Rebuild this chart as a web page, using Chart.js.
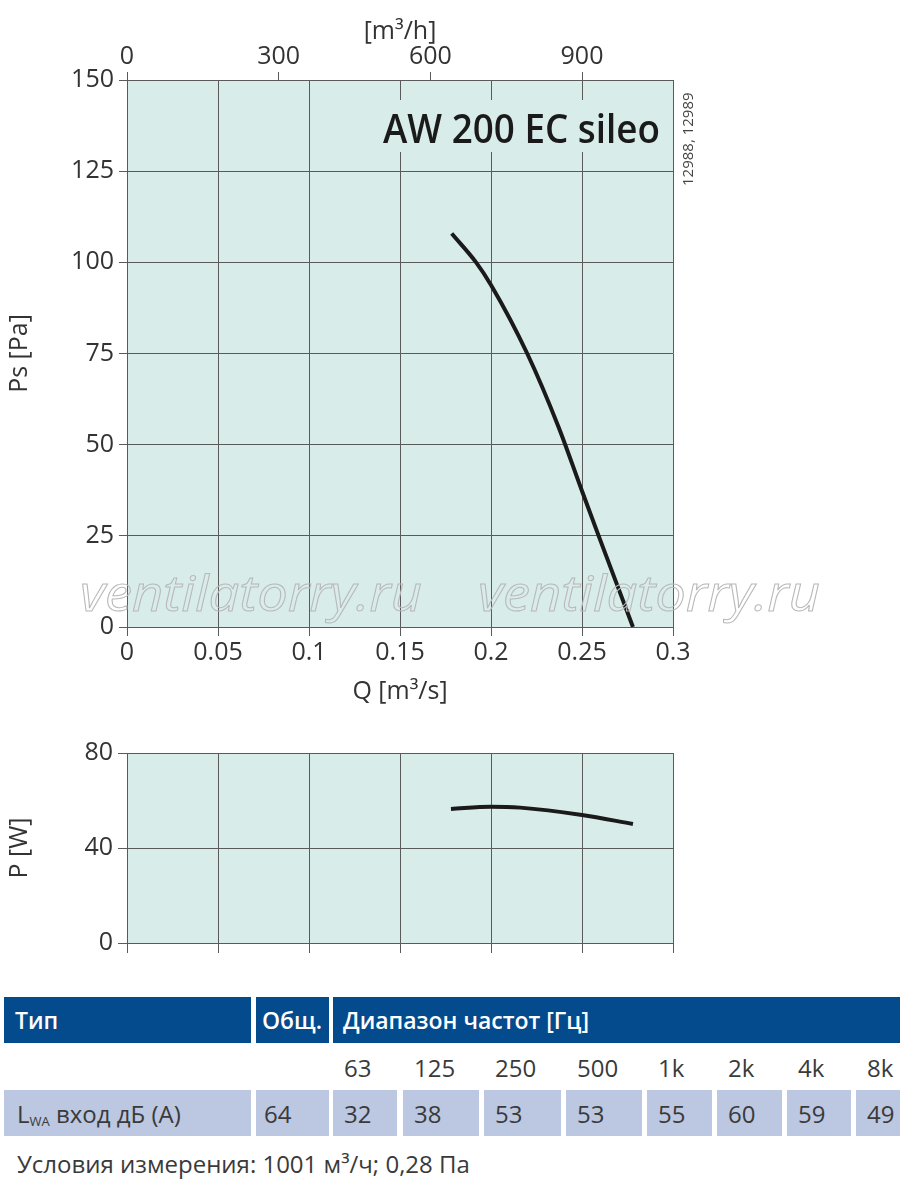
<!DOCTYPE html>
<html>
<head>
<meta charset="utf-8">
<script src="https://cdn.jsdelivr.net/npm/chart.js@4/dist/chart.umd.min.js"></script>
<style>
  body { margin: 0; background: #fff; width: 900px; height: 1186px; position: relative; overflow: hidden; font-family: "Open Sans", sans-serif; }
  canvas { position: absolute; left: 0; }
  #c1 { top: 0; }
  #c2 { top: 720px; }
  .cell { position: absolute; box-sizing: border-box; display: flex; align-items: center; white-space: nowrap; color: #3a3a3a; font-size: 24px; }
  .head { background: #034b8c; color: #fff; font-size: 23px; font-weight: 600; }
  .row { background: #bcc7e1; }
  sub { font-size: 13px; vertical-align: -3px; }
</style>
</head>
<body>
<canvas id="c1" width="900" height="715"></canvas>
<canvas id="c2" width="900" height="250"></canvas>
<div id="table"></div>
<script>
// curve points
const qPs = [0.1784, 0.1918, 0.2, 0.2199, 0.237, 0.25, 0.259, 0.278];
const ps = [107.9, 100, 93.8, 75, 55, 37.3, 25.2, 0];
const qPower = [0.178, 0.2, 0.216, 0.25, 0.278];
const power = [56.4, 57.4, 57.0, 53.9, 50.1];

// ticks
const qTicks = [0, 0.05, 0.1, 0.15, 0.2, 0.25, 0.3];
const m3hTicks = [0, 300, 600, 900];
const psTicks = [0, 25, 50, 75, 100, 125, 150];
const powerTicks = [0, 40, 80];

// noise table
const bands = ["63", "125", "250", "500", "1k", "2k", "4k", "8k"];
const levels = [32, 38, 53, 53, 55, 60, 59, 49];
const totalLevel = 64;

const plotBg = "#d8ecea";
const gridCol = "#5a5a5a";
const textCol = "#333";
const font = "'Open Sans', sans-serif";

function setTicks(arr) {
  return function (scale) {
    scale.ticks = arr.map(v => ({ value: v }));
  };
}

const bgPlugin = {
  id: "bg",
  beforeDraw(chart) {
    const a = chart.chartArea;
    const ctx = chart.ctx;
    ctx.save();
    ctx.fillStyle = plotBg;
    ctx.fillRect(a.left, a.top, a.right - a.left, a.bottom - a.top);
    ctx.restore();
  }
};

const labelsPlugin = {
  id: "labels",
  afterDraw(chart) {
    const ctx = chart.ctx;
    ctx.save();
    // model name with box hiding grid
    ctx.fillStyle = plotBg;
    ctx.fillRect(378, 100, 288, 52);
    ctx.font = "600 40px " + font;
    ctx.fillStyle = "#1a1a1a";
    ctx.textBaseline = "alphabetic";
    let w = ctx.measureText("AW 200 EC sileo").width;
    ctx.translate(383, 143);
    ctx.scale(277 / w, 1);
    ctx.fillText("AW 200 EC sileo", 0, 0);
    ctx.restore();

    // code numbers, rotated
    ctx.save();
    ctx.translate(689, 186);
    ctx.rotate(-Math.PI / 2);
    ctx.font = "15px " + font;
    ctx.fillStyle = "#444";
    ctx.textBaseline = "middle";
    ctx.fillText("12988, 12989", 0, 0);
    ctx.restore();

    // watermark
    ctx.save();
    ctx.font = "italic 50px " + font;
    ctx.strokeStyle = "#b8b8b8";
    ctx.lineWidth = 1;
    ctx.textBaseline = "middle";
    w = ctx.measureText("ventilatorry.ru").width;
    [80, 478].forEach(x0 => {
      ctx.save();
      ctx.translate(x0, 597);
      ctx.scale(342 / w, 1);
      ctx.strokeText("ventilatorry.ru", 0, 0);
      ctx.restore();
    });
    ctx.restore();
  }
};

const tickFont = { family: font, size: 25 };
const titleFont = { family: font, size: 25 };

new Chart(document.getElementById("c1"), {
  type: "scatter",
  data: {
    datasets: [{
      data: qPs.map((q, i) => ({ x: q, y: ps[i] })),
      showLine: true,
      borderColor: "#1a1a1a",
      borderWidth: 4,
      pointRadius: 0,
      cubicInterpolationMode: "monotone"
    }]
  },
  options: {
    responsive: false,
    animation: false,
    layout: { padding: { left: 0, right: 227, top: 0, bottom: 0 } },
    plugins: { legend: { display: false }, tooltip: { enabled: false } },
    scales: {
      x: {
        type: "linear", position: "bottom", min: 0, max: 0.3,
        afterBuildTicks: setTicks(qTicks),
        afterFit(s) { s.height = 88; },
        grid: { color: gridCol, tickLength: 9, tickColor: gridCol },
        border: { color: gridCol },
        ticks: { color: textCol, font: tickFont, padding: 2, maxRotation: 0, callback: v => String(v) },
        title: { display: true, text: "Q [m³/s]", color: textCol, font: titleFont, padding: { top: 0, bottom: 8 } }
      },
      x2: {
        type: "linear", position: "top", min: 0, max: qTicks[qTicks.length - 1] * 3600,
        afterBuildTicks: setTicks(m3hTicks),
        afterFit(s) { s.height = 80; },
        grid: { drawOnChartArea: false, color: gridCol, tickLength: 8 },
        border: { color: gridCol },
        ticks: { color: textCol, font: tickFont, padding: 0, maxRotation: 0 },
        title: { display: true, text: "[m³/h]", color: textCol, font: titleFont, padding: { top: 17, bottom: 0 } }
      },
      y: {
        type: "linear", min: 0, max: 150,
        afterBuildTicks: setTicks(psTicks),
        afterFit(s) { s.width = 127; },
        grid: { color: gridCol, tickLength: 8 },
        border: { color: gridCol },
        ticks: { color: textCol, font: tickFont, padding: 5 },
        title: { display: true, text: "Ps [Pa]", color: textCol, font: titleFont, padding: { top: 5, bottom: 0 } }
      }
    }
  },
  plugins: [bgPlugin, labelsPlugin]
});

new Chart(document.getElementById("c2"), {
  type: "scatter",
  data: {
    datasets: [{
      data: qPower.map((q, i) => ({ x: q, y: power[i] })),
      showLine: true,
      borderColor: "#1a1a1a",
      borderWidth: 4,
      pointRadius: 0,
      cubicInterpolationMode: "monotone"
    }]
  },
  options: {
    responsive: false,
    animation: false,
    layout: { padding: { left: 0, right: 227, top: 33, bottom: 0 } },
    plugins: { legend: { display: false }, tooltip: { enabled: false } },
    scales: {
      x: {
        type: "linear", min: 0, max: 0.3,
        afterBuildTicks: setTicks(qTicks),
        afterFit(s) { s.height = 27; },
        grid: { color: gridCol, tickLength: 10 },
        border: { color: gridCol },
        ticks: { callback: () => "" }
      },
      y: {
        type: "linear", min: 0, max: 80,
        afterBuildTicks: setTicks(powerTicks),
        afterFit(s) { s.width = 127; },
        grid: { color: gridCol, tickLength: 9 },
        border: { color: gridCol },
        ticks: { color: textCol, font: tickFont, padding: 5 },
        title: { display: true, text: "P [W]", color: textCol, font: titleFont, padding: { top: 5, bottom: 0 } }
      }
    }
  },
  plugins: [bgPlugin]
});

// table
const tbl = document.getElementById("table");
function cell(x1, x2, y1, y2, html, cls, pad) {
  const d = document.createElement("div");
  d.className = "cell " + (cls || "");
  d.style.left = x1 + "px";
  d.style.width = (x2 - x1) + "px";
  d.style.top = y1 + "px";
  d.style.height = (y2 - y1) + "px";
  d.style.paddingLeft = (pad == null ? 11 : pad) + "px";
  d.innerHTML = "<span>" + html + "</span>";
  tbl.appendChild(d);
}
const colL = [333, 403, 484, 566, 647, 717, 787, 856];
const colR = [397, 479, 561, 642, 712, 782, 851, 900];

cell(4, 251, 997, 1043, "Тип", "head", 11);
cell(256, 329, 997, 1043, "Общ.", "head", 6);
cell(333, 900, 997, 1043, "Диапазон частот [Гц]", "head", 10);

bands.forEach((b, i) => cell(colL[i], colR[i], 1046, 1089, b, "", 11));

cell(4, 251, 1090, 1136, "L<sub>WA</sub> вход дБ (A)", "row", 13);
cell(256, 329, 1090, 1136, String(totalLevel), "row", 8);
levels.forEach((v, i) => cell(colL[i], colR[i], 1090, 1136, String(v), "row", 11));

cell(0, 900, 1142, 1184, "Условия измерения: 1001 м³/ч; 0,28 Па", "", 17);
</script>
</body>
</html>
